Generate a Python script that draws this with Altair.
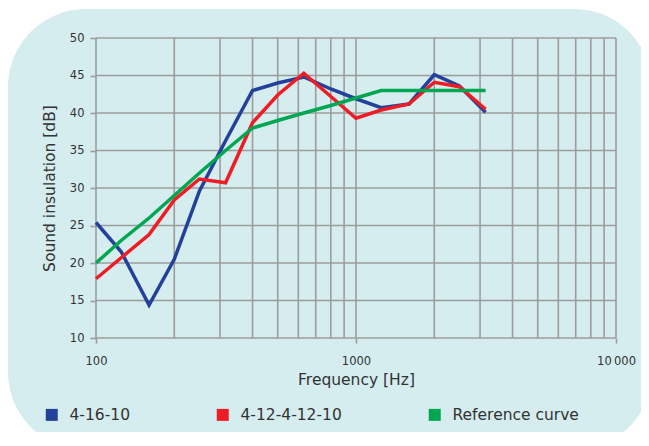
import altair as alt
import pandas as pd

freqs = [100, 125, 160, 200, 250, 315, 400, 500, 630, 800, 1000, 1250, 1600, 2000, 2500, 3150]
s_4_16_10 = [25.4, 21.5, 14.4, 20.5, 29.6, 36.3, 43.0, 44.0, 44.8, 43.2, 41.9, 40.7, 41.2, 45.1, 43.6, 40.1]
s_4_12_4_12_10 = [17.9, 20.7, 23.8, 28.4, 31.2, 30.7, 38.7, 42.4, 45.3, 42.2, 39.3, 40.4, 41.2, 44.1, 43.5, 40.5]
s_reference = [20, 23, 26, 29, 32, 35, 38, 39, 40, 41, 42, 43, 43, 43, 43, 43]

series_names = ["4-16-10", "4-12-4-12-10", "Reference curve"]
series_colors = ["#23409a", "#ee1c25", "#00a651"]

x_grid = [100, 200, 300, 400, 500, 600, 700, 800, 900, 1000, 2000, 3000, 4000, 5000,
          6000, 7000, 8000, 9000, 10000]
y_grid = [10, 15, 20, 25, 30, 35, 40, 45, 50]
x_labels = [100, 1000, 10000]

FONT = "DejaVu Sans"
GRID = "#9c9c9c"
TEXT = "#333333"

rows = []
for name, vals in zip(series_names, [s_4_16_10, s_4_12_4_12_10, s_reference]):
    for i, (f, v) in enumerate(zip(freqs, vals)):
        rows.append({"freq": f, "value": v, "series": name, "idx": i})
df = pd.DataFrame(rows)

xscale = alt.Scale(type="log", domain=[100, 10000], nice=False)
yscale = alt.Scale(domain=[10, 50], nice=False)

xaxis = alt.Axis(values=x_labels, title="Frequency [Hz]", grid=False, domain=False,
                 ticks=True, tickSize=5, tickColor=GRID, tickWidth=1.6,
                 labelPadding=12, labelFontSize=11.5, labelColor=TEXT, labelFont=FONT,
                 labelExpr="datum.value == 10000 ? '10\u2009000' : format(datum.value, 'd')",
                 titleFont=FONT, titleFontSize=15.5, titleFontWeight="normal",
                 titleColor=TEXT, titlePadding=6, zindex=1, labelFlush=False)
yaxis = alt.Axis(values=y_grid, title="Sound insulation [dB]", grid=False, domain=False,
                 ticks=True, tickSize=6, tickColor=GRID, tickWidth=1.6,
                 labelPadding=6, labelFontSize=11.5, labelColor=TEXT, labelFont=FONT,
                 titleFont=FONT, titleFontSize=15.5, titleFontWeight="normal",
                 titleColor=TEXT, titlePadding=12, zindex=1)

bg = alt.Chart(pd.DataFrame({"a": [0]})).mark_rect(
    color="#d5edee", cornerRadius=78
).encode(
    x=alt.value(-88), x2=alt.value(556), y=alt.value(-29), y2=alt.value(412)
)

vrules = alt.Chart(pd.DataFrame({"freq": x_grid})).mark_rule(
    color=GRID, strokeWidth=1.6
).encode(x=alt.X("freq:Q", scale=xscale, axis=xaxis))

hrules = alt.Chart(pd.DataFrame({"value": y_grid})).mark_rule(
    color=GRID, strokeWidth=1.6
).encode(y=alt.Y("value:Q", scale=yscale, axis=yaxis))

lines = alt.Chart(df).mark_line(strokeWidth=3.5, strokeJoin="miter").encode(
    x=alt.X("freq:Q", scale=xscale, axis=xaxis),
    y=alt.Y("value:Q", scale=yscale, axis=yaxis),
    color=alt.Color("series:N",
                    scale=alt.Scale(domain=series_names, range=series_colors),
                    sort=series_names,
                    legend=alt.Legend(title=None, orient="none", legendX=-52, legendY=369,
                                      direction="horizontal", symbolType="square",
                                      symbolSize=36, symbolStrokeWidth=6, symbolOpacity=1,
                                      labelFont=FONT, labelFontSize=15.5, labelColor=TEXT,
                                      labelOffset=10, columnPadding=77, labelLimit=300)),
    order=alt.Order("idx:Q"),
    detail="series:N",
)

chart = alt.layer(bg, vrules, hrules, lines).properties(
    width=520, height=300,
    autosize=alt.AutoSizeParams(type="none"),
    padding={"left": 88, "top": 30, "right": 25, "bottom": 94},
    background="white",
).configure_view(stroke=None)

chart.save("out.html", embed_options={"renderer": "svg", "actions": False})
